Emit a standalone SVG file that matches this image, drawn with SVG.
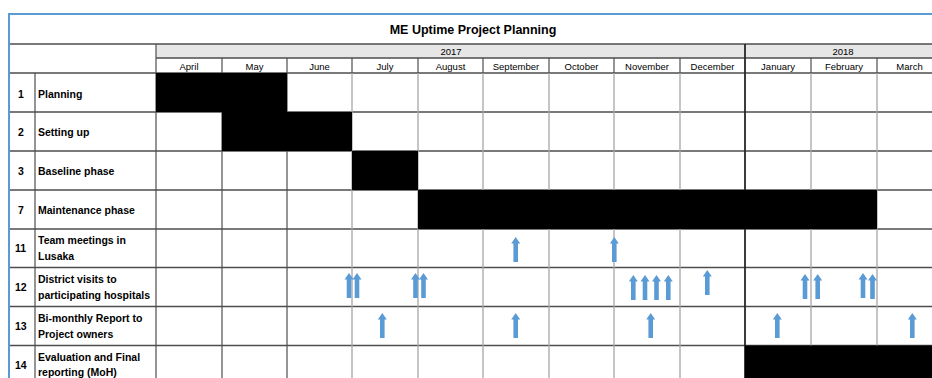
<svg xmlns="http://www.w3.org/2000/svg" width="932" height="378" viewBox="0 0 932 378">
<defs>
<style>
.t{font-family:"Liberation Sans",Arial,sans-serif;fill:#000}
.ttl{font-size:12.5px;font-weight:bold}
.hd{font-size:9.5px}
.lb{font-size:10.5px;font-weight:bold}
.hl{stroke:#4d4d4d;stroke-width:1.3}
.vd{stroke:#4d4d4d;stroke-width:1.2}
.vg{stroke:#a6a6a6;stroke-width:1.3}
.bar{fill:#000}
</style>
<g id="arrowShape"><path d="M-2.3 25 V6.5 H-4.5 L0 0 L4.5 6.5 H2.3 V25 Z" fill="#5b9bd5"/></g>
</defs>
<rect width="932" height="378" fill="#fff"/>
<g id="header">
<rect x="156" y="44" width="780" height="14" fill="#e6e6e6"/>
<text class="t ttl" x="473" y="34" text-anchor="middle">ME Uptime Project Planning</text>
<text class="t hd" x="451" y="55" text-anchor="middle">2017</text>
<text class="t hd" x="843" y="55" text-anchor="middle">2018</text>
<g class="t hd" text-anchor="middle">
<text x="189" y="70">April</text><text x="254.5" y="70">May</text><text x="319.5" y="70">June</text><text x="385" y="70">July</text><text x="450.5" y="70">August</text><text x="516" y="70">September</text><text x="581.5" y="70">October</text><text x="647" y="70">November</text><text x="712.5" y="70">December</text><text x="778" y="70">January</text><text x="844" y="70">February</text><text x="909.5" y="70">March</text>
</g>
</g>
<g id="grid">
<line class="hl" x1="9" y1="44" x2="932" y2="44"/>
<line class="hl" x1="156" y1="58" x2="932" y2="58"/>
<line class="hl" x1="9" y1="73" x2="932" y2="73"/>
<line class="hl" x1="9" y1="112" x2="932" y2="112"/>
<line class="hl" x1="9" y1="151" x2="932" y2="151"/>
<line class="hl" x1="9" y1="190" x2="932" y2="190"/>
<line class="hl" x1="9" y1="229" x2="932" y2="229"/>
<line class="hl" x1="9" y1="267.5" x2="932" y2="267.5"/>
<line class="hl" x1="9" y1="306.5" x2="932" y2="306.5"/>
<line class="hl" x1="9" y1="345.5" x2="932" y2="345.5"/>
<line class="vd" x1="35" y1="73" x2="35" y2="378"/>
<line class="vd" x1="156" y1="44" x2="156" y2="378"/>
<line class="vd" x1="222" y1="58" x2="222" y2="378"/>
<line class="vd" x1="287" y1="58" x2="287" y2="378"/>
<line class="vd" x1="352" y1="58" x2="352" y2="73"/>
<line class="vg" x1="352" y1="73" x2="352" y2="378"/>
<line class="vd" x1="418" y1="58" x2="418" y2="73"/>
<line class="vg" x1="418" y1="73" x2="418" y2="378"/>
<line class="vd" x1="483" y1="58" x2="483" y2="73"/>
<line class="vg" x1="483" y1="73" x2="483" y2="378"/>
<line class="vd" x1="549" y1="58" x2="549" y2="73"/>
<line class="vg" x1="549" y1="73" x2="549" y2="378"/>
<line class="vd" x1="614" y1="58" x2="614" y2="73"/>
<line class="vg" x1="614" y1="73" x2="614" y2="378"/>
<line class="vd" x1="680" y1="58" x2="680" y2="73"/>
<line class="vg" x1="680" y1="73" x2="680" y2="378"/>
<line stroke="#262626" stroke-width="1.8" x1="745" y1="44" x2="745" y2="378"/>
<line class="vd" x1="811" y1="58" x2="811" y2="73"/>
<line class="vg" x1="811" y1="73" x2="811" y2="378"/>
<line class="vd" x1="877" y1="58" x2="877" y2="73"/>
<line class="vg" x1="877" y1="73" x2="877" y2="378"/>
</g>
<g id="bars">
<rect class="bar" x="156" y="73" width="131" height="39"/>
<rect class="bar" x="222" y="112" width="130" height="39"/>
<rect class="bar" x="352" y="151" width="66" height="39"/>
<rect class="bar" x="418" y="190" width="459" height="39"/>
<rect class="bar" x="745" y="345.5" width="190" height="40"/>
</g>
<g id="frame">
<line stroke="#5b9bd5" stroke-width="2" x1="9" y1="14" x2="932" y2="14"/>
<line stroke="#5b9bd5" stroke-width="2" x1="9" y1="13" x2="9" y2="378"/>
</g>
<g id="labels" class="t lb">
<text x="18" y="98">1</text><text x="38" y="98">Planning</text>
<text x="18" y="136">2</text><text x="38" y="136">Setting up</text>
<text x="18" y="175">3</text><text x="38" y="175">Baseline phase</text>
<text x="18" y="214">7</text><text x="38" y="214">Maintenance phase</text>
<text x="15" y="252">11</text><text x="38" y="244">Team meetings in</text><text x="38" y="260">Lusaka</text>
<text x="15" y="291">12</text><text x="38" y="283">District visits to</text><text x="38" y="299">participating hospitals</text>
<text x="15" y="330">13</text><text x="38" y="322">Bi-monthly Report to</text><text x="38" y="338">Project owners</text>
<text x="15" y="369">14</text><text x="38" y="361">Evaluation and Final</text><text x="38" y="376">reporting (MoH)</text>
</g>
<g id="connectors">
<use href="#arrowShape" x="515.7" y="237"/>
<use href="#arrowShape" x="614.3" y="237"/>
<use href="#arrowShape" x="349" y="273"/>
<use href="#arrowShape" x="357" y="273"/>
<use href="#arrowShape" x="415.5" y="273"/>
<use href="#arrowShape" x="423.5" y="273"/>
<use href="#arrowShape" x="633.3" y="275"/>
<use href="#arrowShape" x="645" y="275"/>
<use href="#arrowShape" x="656.5" y="275"/>
<use href="#arrowShape" x="668.3" y="275"/>
<use href="#arrowShape" x="707.3" y="270"/>
<use href="#arrowShape" x="805" y="274"/>
<use href="#arrowShape" x="817.7" y="274"/>
<use href="#arrowShape" x="863" y="273"/>
<use href="#arrowShape" x="872.5" y="274"/>
<use href="#arrowShape" x="382.3" y="313"/>
<use href="#arrowShape" x="515.7" y="313"/>
<use href="#arrowShape" x="650.7" y="313"/>
<use href="#arrowShape" x="777.3" y="313"/>
<use href="#arrowShape" x="912.3" y="313"/>
</g>
</svg>
